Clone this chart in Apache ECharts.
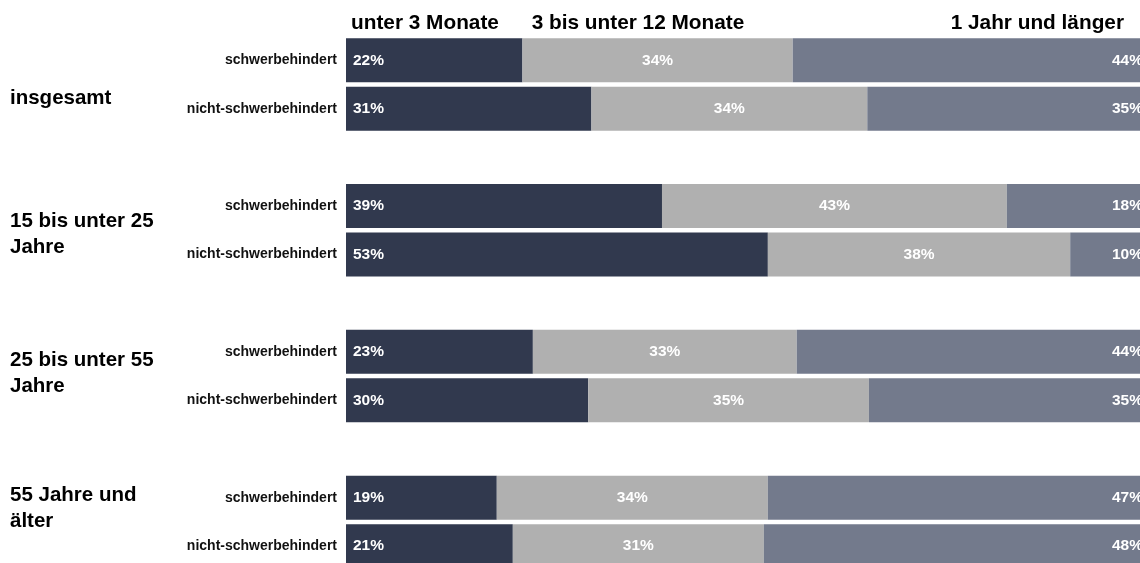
<!DOCTYPE html>
<html>
<head>
<meta charset="utf-8">
<script src="https://cdn.jsdelivr.net/npm/echarts@6/dist/echarts.min.js"></script>
<style>
html,body{margin:0;padding:0;background:#fff;}
#chart{width:1140px;height:563px;}
</style>
</head>
<body>
<div id="chart"></div>
<script>
// ---- data ----
const groups = ['insgesamt', '15 bis unter 25 Jahre', '25 bis unter 55 Jahre', '55 Jahre und älter'];
const subgroups = ['schwerbehindert', 'nicht-schwerbehindert'];
const seriesNames = ['unter 3 Monate', '3 bis unter 12 Monate', '1 Jahr und länger'];
// values per bar, in order: group 1 (schwer, nicht-schwer), group 2, ...
const under3Months = [22.0, 30.6, 39.4, 52.6, 23.3, 30.2, 18.8, 20.8];
const from3to12Months = [33.7, 34.4, 43.0, 37.7, 32.9, 35.0, 33.8, 31.3];
const oneYearPlus = [44.3, 35.0, 17.6, 9.7, 43.8, 34.8, 47.4, 47.9];

// ---- layout / style ----
const colors = ['#31394e', '#b0b0b0', '#737a8c'];
const gridLeft = 346, gridWidth = 802, firstTop = 36, groupStep = 145.8, gridHeight = 97;
const groupLabelCenters = [98, 234, 373, 508];
const headerPos = [{x: 351, align: 'left'}, {x: 638, align: 'center'}, {x: 1124, align: 'right'}];

const seriesData = [under3Months, from3to12Months, oneYearPlus];
const labelCfg = [
  {position: 'insideLeft', distance: 7},
  {position: 'inside'},
  {position: 'insideRight', distance: 5}
];

const grid = [], xAxis = [], yAxis = [], series = [];
groups.forEach((g, gi) => {
  grid.push({left: gridLeft, width: gridWidth, top: firstTop + gi * groupStep, height: gridHeight, containLabel: false, outerBoundsMode: 'none'});
  xAxis.push({gridIndex: gi, type: 'value', min: 0, max: 100, show: false});
  yAxis.push({
    gridIndex: gi, type: 'category', inverse: true, data: subgroups,
    axisLine: {show: false}, axisTick: {show: false}, splitLine: {show: false},
    axisLabel: {fontFamily: 'Liberation Sans, Arial, sans-serif', fontWeight: 'bold', fontSize: 14, color: '#111', margin: 9}
  });
  seriesData.forEach((arr, si) => {
    series.push({
      name: seriesNames[si], type: 'bar', stack: 'g' + gi,
      xAxisIndex: gi, yAxisIndex: gi,
      barWidth: 44,
      data: subgroups.map((s, k) => arr[gi * subgroups.length + k]),
      itemStyle: {color: colors[si]},
      silent: true,
      label: Object.assign({
        show: true, color: '#fff', fontWeight: 'bold', fontSize: 15.5,
        fontFamily: 'Liberation Sans, Arial, sans-serif',
        formatter: p => Math.round(p.value) + '%'
      }, labelCfg[si])
    });
  });
});

const graphic = [];
seriesNames.forEach((n, i) => {
  graphic.push({
    type: 'text', x: headerPos[i].x, y: 23,
    style: {text: n, fontFamily: 'Liberation Sans, Arial, sans-serif', fontWeight: 'bold', fontSize: 20.8, fill: '#000', align: headerPos[i].align, verticalAlign: 'middle'}
  });
});
groups.forEach((g, i) => {
  graphic.push({
    type: 'text', x: 10, y: groupLabelCenters[i],
    style: {text: g, width: 165, overflow: 'break', lineHeight: 26, fontFamily: 'Liberation Sans, Arial, sans-serif', fontWeight: 'bold', fontSize: 20.5, fill: '#000', align: 'left', verticalAlign: 'middle'}
  });
});

const chart = echarts.init(document.getElementById('chart'), null, {renderer: 'canvas'});
chart.setOption({
  animation: false,
  backgroundColor: '#fff',
  grid, xAxis, yAxis, series, graphic
});
</script>
</body>
</html>
